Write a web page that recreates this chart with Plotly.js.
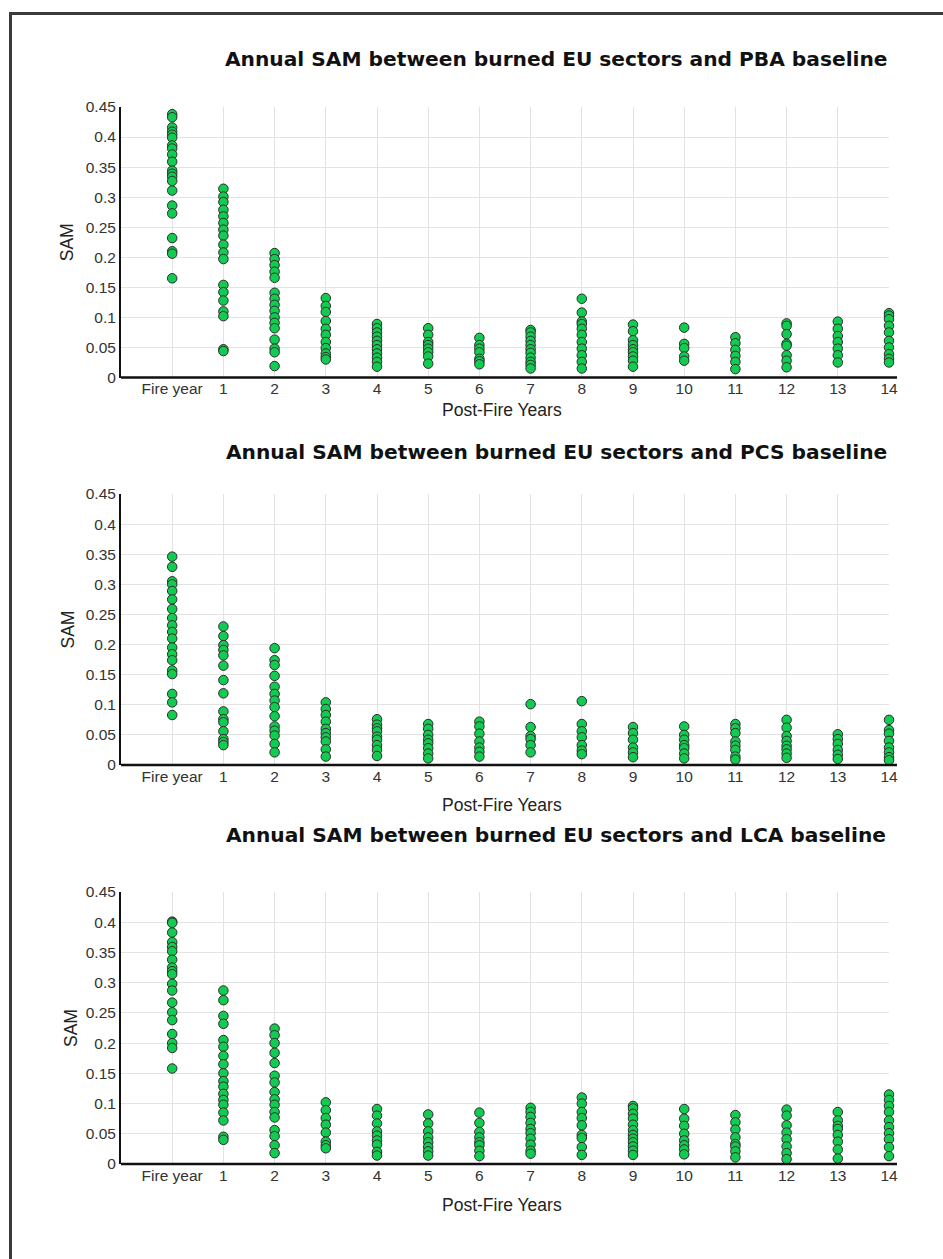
<!DOCTYPE html>
<html>
<head>
<meta charset="utf-8">
<script src="https://cdn.plot.ly/plotly-3.0.1.min.js"></script>
<style>
  html, body { margin: 0; padding: 0; background: #fff; }
  #wrap { position: relative; width: 943px; height: 1259px; overflow: hidden; }
  #chart { position: absolute; left: 0; top: 0; width: 943px; height: 1259px; }
  #frame { position: absolute; left: 9px; top: 12px; width: 1000px; height: 1300px;
           border-top: 3px solid #3a3a3a; border-left: 3px solid #3a3a3a; pointer-events: none; }
</style>
</head>
<body>
<div id="wrap">
  <div id="chart"></div>
  <div id="frame"></div>
</div>
<script>
// ---- data ----
const categories = ["Fire year","1","2","3","4","5","6","7","8","9","10","11","12","13","14"];

const panelTitles = [
  "Annual SAM between burned EU sectors and PBA baseline",
  "Annual SAM between burned EU sectors and PCS baseline",
  "Annual SAM between burned EU sectors and LCA baseline"
];

const yTickVals = [0, 0.05, 0.1, 0.15, 0.2, 0.25, 0.3, 0.35, 0.4, 0.45];

// SAM values per category (Fire year, 1..14) — PBA baseline
const samPBA = [
  [0.438,0.433,0.416,0.409,0.404,0.399,0.386,0.381,0.371,0.359,0.344,0.339,0.334,0.327,0.311,0.286,0.273,0.232,0.210,0.206,0.165],
  [0.314,0.301,0.292,0.279,0.268,0.257,0.246,0.236,0.221,0.208,0.197,0.154,0.142,0.128,0.110,0.102,0.047,0.044],
  [0.207,0.197,0.187,0.176,0.166,0.141,0.131,0.121,0.111,0.100,0.091,0.082,0.063,0.048,0.042,0.019],
  [0.132,0.119,0.109,0.094,0.081,0.071,0.059,0.049,0.040,0.034,0.030],
  [0.089,0.082,0.075,0.068,0.061,0.054,0.047,0.040,0.033,0.026,0.018],
  [0.082,0.071,0.059,0.054,0.048,0.042,0.035,0.023],
  [0.066,0.054,0.048,0.042,0.031,0.027,0.022],
  [0.079,0.075,0.068,0.061,0.054,0.047,0.041,0.033,0.026,0.021,0.015],
  [0.131,0.108,0.093,0.089,0.081,0.071,0.059,0.048,0.037,0.026,0.015],
  [0.088,0.077,0.062,0.054,0.047,0.042,0.035,0.028,0.018],
  [0.083,0.056,0.049,0.035,0.028],
  [0.067,0.057,0.046,0.036,0.026,0.014],
  [0.090,0.086,0.072,0.056,0.053,0.037,0.028,0.017],
  [0.093,0.081,0.069,0.059,0.048,0.037,0.025],
  [0.107,0.103,0.097,0.086,0.075,0.061,0.050,0.039,0.031,0.025]
];

// PCS baseline
const samPCS = [
  [0.346,0.329,0.305,0.300,0.289,0.275,0.259,0.244,0.232,0.221,0.210,0.195,0.184,0.174,0.157,0.151,0.118,0.104,0.083],
  [0.230,0.214,0.199,0.191,0.182,0.165,0.141,0.119,0.089,0.076,0.071,0.056,0.043,0.038,0.033],
  [0.194,0.174,0.166,0.148,0.130,0.118,0.107,0.096,0.081,0.064,0.057,0.049,0.035,0.021],
  [0.104,0.093,0.083,0.072,0.060,0.053,0.046,0.039,0.026,0.014],
  [0.076,0.067,0.061,0.056,0.047,0.042,0.033,0.025,0.015],
  [0.068,0.060,0.050,0.042,0.036,0.028,0.019,0.011],
  [0.072,0.064,0.052,0.039,0.029,0.022,0.014],
  [0.101,0.063,0.048,0.043,0.033,0.021],
  [0.106,0.068,0.056,0.046,0.033,0.024,0.018],
  [0.063,0.053,0.042,0.029,0.021,0.013],
  [0.064,0.050,0.042,0.033,0.028,0.019,0.011],
  [0.068,0.061,0.053,0.039,0.032,0.025,0.014,0.009],
  [0.075,0.062,0.048,0.040,0.032,0.026,0.019,0.012],
  [0.051,0.043,0.035,0.025,0.017,0.010],
  [0.075,0.058,0.052,0.040,0.029,0.021,0.013,0.008]
];

// LCA baseline
const samLCA = [
  [0.401,0.399,0.383,0.367,0.359,0.352,0.338,0.325,0.319,0.314,0.298,0.287,0.267,0.251,0.238,0.215,0.200,0.192,0.158],
  [0.287,0.271,0.245,0.232,0.205,0.194,0.179,0.165,0.150,0.137,0.128,0.116,0.106,0.098,0.085,0.072,0.045,0.040],
  [0.224,0.213,0.200,0.184,0.167,0.146,0.135,0.119,0.107,0.098,0.086,0.077,0.056,0.046,0.031,0.018],
  [0.102,0.089,0.076,0.065,0.052,0.037,0.031,0.026],
  [0.091,0.080,0.067,0.054,0.047,0.039,0.032,0.020,0.014],
  [0.082,0.067,0.054,0.044,0.036,0.028,0.021,0.014],
  [0.085,0.068,0.053,0.044,0.036,0.031,0.022,0.013],
  [0.093,0.086,0.078,0.068,0.058,0.051,0.042,0.032,0.022,0.017],
  [0.110,0.100,0.086,0.076,0.064,0.048,0.043,0.028,0.015],
  [0.096,0.092,0.083,0.075,0.065,0.056,0.048,0.042,0.036,0.029,0.022,0.015],
  [0.091,0.075,0.063,0.050,0.039,0.031,0.024,0.016],
  [0.081,0.069,0.057,0.044,0.033,0.029,0.021,0.011],
  [0.090,0.080,0.064,0.052,0.041,0.029,0.018,0.008],
  [0.086,0.072,0.063,0.058,0.048,0.037,0.024,0.009],
  [0.115,0.106,0.096,0.086,0.072,0.061,0.051,0.041,0.028,0.013]
];

// ---- build ----
const panels = [samPBA, samPCS, samLCA];
const axSuffix = ["", "2", "3"];
const W = 943, H = 1259, ML = 121, MR = 54;
const plotW = W - ML - MR;
const pTop = [107, 494, 892];
const pBot = [377.5, 765, 1164];
const titleY = [59, 452, 835];
const xTitleY = [410, 805, 1205];
const yTitleX = [67, 67, 71];

const px2x = p => (p - ML) / plotW;
const py2y = p => (H - p) / H;

const traces = panels.map((vals, i) => {
  const xs = [], ys = [];
  vals.forEach((arr, c) => arr.forEach(v => { xs.push(categories[c]); ys.push(v); }));
  return {
    type: "scatter", mode: "markers",
    x: xs, y: ys,
    xaxis: "x" + axSuffix[i], yaxis: "y" + axSuffix[i],
    marker: { color: "#12cc52", size: 9.5, line: { color: "#2b2b2b", width: 1 } },
    cliponaxis: false,
    hoverinfo: "x+y", showlegend: false
  };
});

const tickFont = { family: "Liberation Sans, Arial, sans-serif", size: 15.5, color: "#333" };
const layout = {
  width: W, height: H,
  margin: { l: ML, r: MR, t: 0, b: 0, pad: 0 },
  paper_bgcolor: "rgba(0,0,0,0)", plot_bgcolor: "#fff",
  showlegend: false,
  annotations: [], shapes: []
};

panels.forEach((_, i) => {
  const s = axSuffix[i];
  layout["xaxis" + s] = {
    type: "category", categoryorder: "array", categoryarray: categories,
    range: [-1, 14], domain: [0, 1], anchor: "y" + s,
    showgrid: true, gridcolor: "#e3e3e3", gridwidth: 1,
    showline: false, zeroline: false, ticks: "", tickfont: tickFont,
    fixedrange: true
  };
  layout["yaxis" + s] = {
    range: [0, 0.45], domain: [py2y(pBot[i]), py2y(pTop[i])], anchor: "x" + s,
    tickvals: yTickVals, ticks: "", tickfont: tickFont,
    showgrid: true, gridcolor: "#e3e3e3", gridwidth: 1,
    showline: true, linecolor: "#111", linewidth: 2, zeroline: false,
    fixedrange: true
  };
  layout.shapes.push({
    type: "line", xref: "x" + s + " domain", yref: "y" + s + " domain",
    x0: 0, x1: 1.0104, y0: 0, y1: 0, line: { color: "#111", width: 2.5 }
  });
  layout.annotations.push({
    text: "<b>" + panelTitles[i] + "</b>", showarrow: false,
    xref: "paper", yref: "paper", x: px2x(556), y: py2y(titleY[i]),
    xanchor: "center", yanchor: "middle",
    font: { family: "DejaVu Sans, Verdana, sans-serif", size: 20.2, color: "#111" }
  });
  layout.annotations.push({
    text: "Post-Fire Years", showarrow: false,
    xref: "paper", yref: "paper", x: px2x(502), y: py2y(xTitleY[i]),
    xanchor: "center", yanchor: "middle",
    font: { family: "Liberation Sans, Arial, sans-serif", size: 17.5, color: "#222" }
  });
  layout.annotations.push({
    text: "SAM", showarrow: false, textangle: -90,
    xref: "paper", yref: "paper", x: px2x(yTitleX[i]), y: py2y((pTop[i] + pBot[i]) / 2),
    xanchor: "center", yanchor: "middle",
    font: { family: "Liberation Sans, Arial, sans-serif", size: 17.5, color: "#222" }
  });
});

Plotly.newPlot("chart", traces, layout, { displayModeBar: false, staticPlot: true });
</script>
</body>
</html>
